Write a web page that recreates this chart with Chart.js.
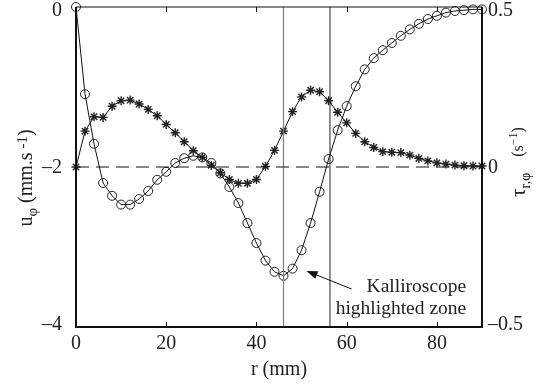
<!DOCTYPE html>
<html>
<head>
<meta charset="utf-8">
<script src="https://cdn.jsdelivr.net/npm/chart.js@4.4.0/dist/chart.umd.min.js"></script>
<style>
  html, body { margin: 0; padding: 0; background: #fff; }
  #wrap { width: 545px; height: 387px; position: relative; }
</style>
</head>
<body>
<div id="wrap"><canvas id="grafico"></canvas></div>
<script>
// r (mm)
const raios = [0, 2, 4, 6, 8, 10, 12, 14, 16, 18, 20, 22, 24, 26, 28, 30, 32, 34, 36, 38, 40, 42, 44,
  46, 48, 50, 52, 54, 56, 58, 60, 62, 64, 66, 68, 70, 72, 74, 76, 78, 80, 82, 84, 86, 88, 90];
// u_phi (mm/s), eixo esquerdo, marcador circulo
const velocidade = [0, -1.09, -1.71, -2.2, -2.36, -2.47, -2.47, -2.40, -2.30, -2.16, -2.06, -1.95,
  -1.89, -1.86, -1.88, -1.95, -2.08, -2.25, -2.45, -2.70, -2.95, -3.17, -3.31, -3.36, -3.27, -3.04,
  -2.70, -2.31, -1.90, -1.54, -1.24, -0.99, -0.78, -0.64, -0.54, -0.45, -0.36, -0.28, -0.21, -0.15,
  -0.11, -0.07, -0.05, -0.04, -0.03, -0.03];
// tau_r,phi (1/s), eixo direito, marcador estrela
const tensao = [0, 0.112, 0.157, 0.155, 0.19, 0.207, 0.209, 0.197, 0.18, 0.16, 0.133, 0.107, 0.079,
  0.051, 0.03, 0.005, -0.018, -0.039, -0.051, -0.051, -0.039, 0.002, 0.052, 0.112, 0.173, 0.219,
  0.24, 0.235, 0.207, 0.171, 0.138, 0.105, 0.079, 0.061, 0.048, 0.046, 0.045, 0.037, 0.027, 0.019,
  0.013, 0.009, 0.006, 0.004, 0.003, 0.003];
const ticksX = [0, 20, 40, 60, 80];
const ticksU = [-4, -2, 0];
const ticksTau = [-0.5, 0, 0.5];
const zona = [46, 56.3];
const textoZona = ["Kalliroscope", "highlighted zone"];

const fonte = '"Liberation Serif", "Times New Roman", serif';
const tamFonte = 20;

function fmt(v) {
  return v < 0 ? "\u2013" + Math.abs(v) : String(v);
}

function textoRico(ctx, partes, x, y, ang) {
  ctx.save();
  ctx.translate(x, y);
  ctx.rotate(ang);
  let total = 0;
  partes.forEach(p => {
    ctx.font = p.tam + "px " + fonte;
    p.w = ctx.measureText(p.t).width;
    total += p.w;
  });
  let cx = -total / 2;
  ctx.textAlign = "left";
  ctx.textBaseline = "middle";
  ctx.fillStyle = "#222";
  partes.forEach(p => {
    ctx.font = p.tam + "px " + fonte;
    ctx.fillText(p.t, cx, p.dy || 0);
    cx += p.w;
  });
  ctx.restore();
}

// rotulos dos eixos y, empurrados para dentro nas pontas como no original
function rotulosY(ctx, escala, valores, x, alinhamento) {
  ctx.save();
  ctx.font = tamFonte + "px " + fonte;
  ctx.fillStyle = "#222";
  ctx.textAlign = alinhamento;
  ctx.textBaseline = "middle";
  valores.forEach(v => {
    let py = escala.getPixelForValue(v);
    if (v === escala.max) py += 3;
    if (v === escala.min) py -= 3;
    ctx.fillText(fmt(v), x, py + 1);
  });
  ctx.restore();
}

const extras = {
  id: "extras",
  afterDraw(chart) {
    const ctx = chart.ctx;
    const a = chart.chartArea;
    const x = chart.scales.x, u = chart.scales.yU, t = chart.scales.yTau;

    // moldura
    ctx.save();
    ctx.strokeStyle = "#111";
    ctx.lineWidth = 2;
    ctx.beginPath();
    ctx.moveTo(a.left, a.top);
    ctx.lineTo(a.left, a.bottom);
    ctx.lineTo(a.right, a.bottom);
    ctx.lineTo(a.right, a.top);
    ctx.stroke();
    ctx.lineWidth = 1.2;
    ctx.beginPath();
    ctx.moveTo(a.left, a.top);
    ctx.lineTo(a.right, a.top);
    ctx.stroke();
    // ticks para dentro
    ctx.lineWidth = 1;
    ctx.beginPath();
    ticksX.forEach(v => {
      const px = Math.round(x.getPixelForValue(v)) + 0.5;
      ctx.moveTo(px, a.bottom); ctx.lineTo(px, a.bottom - 5);
      ctx.moveTo(px, a.top); ctx.lineTo(px, a.top + 5);
    });
    ctx.stroke();

    // seta + texto
    const hx = x.getPixelForValue(51.1), hy = u.getPixelForValue(-3.30);
    const tx = x.getPixelForValue(61.1), ty = u.getPixelForValue(-3.525);
    const ang = Math.atan2(hy - ty, hx - tx);
    ctx.strokeStyle = "#111";
    ctx.fillStyle = "#111";
    ctx.lineWidth = 1;
    ctx.beginPath();
    ctx.moveTo(tx, ty);
    ctx.lineTo(hx - 8 * Math.cos(ang), hy - 8 * Math.sin(ang));
    ctx.stroke();
    ctx.beginPath();
    ctx.moveTo(hx, hy);
    ctx.lineTo(hx - 11 * Math.cos(ang) + 4 * Math.sin(ang), hy - 11 * Math.sin(ang) - 4 * Math.cos(ang));
    ctx.lineTo(hx - 11 * Math.cos(ang) - 4 * Math.sin(ang), hy - 11 * Math.sin(ang) + 4 * Math.cos(ang));
    ctx.closePath();
    ctx.fill();

    ctx.font = "19.5px " + fonte;
    ctx.fillStyle = "#222";
    ctx.textAlign = "right";
    ctx.textBaseline = "alphabetic";
    const rx = x.getPixelForValue(86.5);
    ctx.fillText(textoZona[0], rx, u.getPixelForValue(-3.56));
    ctx.fillText(textoZona[1], rx, u.getPixelForValue(-3.84));

    // titulo eixo x
    ctx.font = tamFonte + "px " + fonte;
    ctx.textAlign = "center";
    ctx.textBaseline = "middle";
    ctx.fillText("r (mm)", (a.left + a.right) / 2, 370);
    ctx.restore();

    rotulosY(ctx, u, ticksU, a.left - 14, "right");
    rotulosY(ctx, t, ticksTau, a.right + 6, "left");

    // titulos eixos y
    textoRico(ctx, [
      { t: "u", tam: 20 },
      { t: "\u03c6", tam: 15, dy: 6 },
      { t: " (mm.s", tam: 20 },
      { t: " -1", tam: 15, dy: -4 },
      { t: ")", tam: 20 }
    ], 27, 178, -Math.PI / 2);
    textoRico(ctx, [
      { t: "\u03c4", tam: 21 },
      { t: "r,\u03c6", tam: 14, dy: 7 },
      { t: "    (s", tam: 16 },
      { t: "\u22121", tam: 12, dy: -5 },
      { t: ")", tam: 16 }
    ], 519, 162, -Math.PI / 2);
  }
};

const fonteTicks = { family: fonte, size: tamFonte };

function pontos(ys) {
  return raios.map((r, i) => ({ x: r, y: ys[i] }));
}

const ctx = document.getElementById("grafico").getContext("2d");
new Chart(ctx, {
  type: "line",
  data: {
    datasets: [
      {
        label: "zero",
        data: [{ x: 0, y: 0 }, { x: 90, y: 0 }],
        yAxisID: "yTau",
        borderColor: "#111",
        borderWidth: 1,
        borderDash: [13, 7],
        pointRadius: 0
      },
      {
        label: "zona1",
        data: [{ x: zona[0], y: -4 }, { x: zona[0], y: 0 }],
        yAxisID: "yU",
        borderColor: "#808080",
        borderWidth: 1.2,
        pointRadius: 0
      },
      {
        label: "zona2",
        data: [{ x: zona[1], y: -4 }, { x: zona[1], y: 0 }],
        yAxisID: "yU",
        borderColor: "#222",
        borderWidth: 1,
        pointRadius: 0
      },
      {
        label: "u_phi",
        data: pontos(velocidade),
        yAxisID: "yU",
        borderColor: "#111",
        borderWidth: 1,
        pointStyle: "circle",
        pointRadius: 4.5,
        pointBorderWidth: 1,
        pointBorderColor: "#222",
        pointBackgroundColor: "rgba(0,0,0,0)",
        tension: 0,
        clip: false
      },
      {
        label: "tau",
        data: pontos(tensao),
        yAxisID: "yTau",
        borderColor: "#111",
        borderWidth: 1,
        pointStyle: "star",
        pointRadius: 4.5,
        pointBorderWidth: 1.4,
        pointBorderColor: "#222",
        pointBackgroundColor: "#222",
        tension: 0,
        clip: false
      }
    ]
  },
  options: {
    responsive: true,
    maintainAspectRatio: false,
    animation: false,
    events: [],
    layout: { padding: { top: 7, left: 0, right: 0, bottom: 0 }, autoPadding: false },
    plugins: { legend: { display: false }, tooltip: { enabled: false } },
    scales: {
      x: {
        type: "linear",
        min: 0,
        max: 90,
        grid: { display: false, drawTicks: false },
        border: { display: false },
        ticks: { font: fonteTicks, color: "#222", padding: 5, maxRotation: 0, callback: fmt },
        afterBuildTicks: s => { s.ticks = ticksX.map(v => ({ value: v })); },
        afterFit: s => { s.height = 60; s.paddingLeft = 0; s.paddingRight = 0; }
      },
      yU: {
        type: "linear",
        position: "left",
        min: -4,
        max: 0,
        grid: { display: false, drawTicks: false },
        border: { display: false },
        ticks: { display: false },
        afterBuildTicks: s => { s.ticks = ticksU.map(v => ({ value: v })); },
        afterFit: s => { s.width = 76; s.paddingTop = 0; s.paddingBottom = 0; }
      },
      yTau: {
        type: "linear",
        position: "right",
        min: -0.5,
        max: 0.5,
        grid: { display: false, drawTicks: false },
        border: { display: false },
        ticks: { display: false },
        afterBuildTicks: s => { s.ticks = ticksTau.map(v => ({ value: v })); },
        afterFit: s => { s.width = 63; s.paddingTop = 0; s.paddingBottom = 0; }
      }
    }
  },
  plugins: [extras]
});
</script>
</body>
</html>
